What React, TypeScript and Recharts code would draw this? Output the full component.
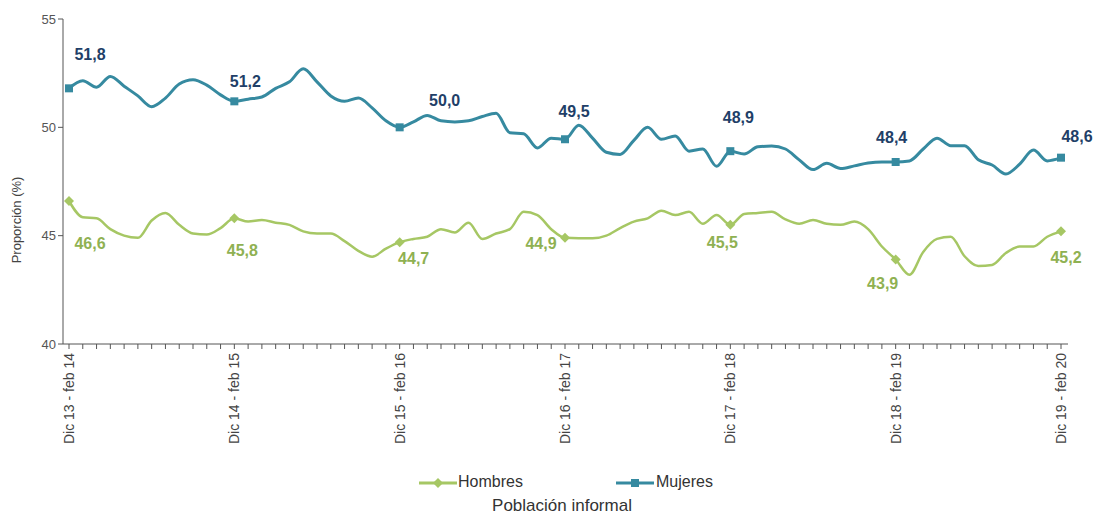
import React from 'react'
import { LineChart, Line, XAxis, YAxis, Legend } from 'recharts'

// Rolling quarters, Dic 13 - feb 14 ... Dic 19 - feb 20 (73 periods)
const monthAbbr = ['Ene', 'Feb', 'Mar', 'Abr', 'May', 'Jun', 'Jul', 'Ago', 'Sep', 'Oct', 'Nov', 'Dic']
const endAbbr = ['ene', 'feb', 'mar', 'abr', 'may', 'jun', 'jul', 'ago', 'sep', 'oct', 'nov', 'dic']

const periods: string[] = []
for (let i = 0; i < 73; i++) {
  const start = (11 + i) % 12
  const startYear = 13 + Math.floor((11 + i) / 12)
  const end = (start + 2) % 12
  const endYear = startYear + (start + 2 >= 12 ? 1 : 0)
  periods.push(
    start >= 10
      ? `${monthAbbr[start]} ${startYear} - ${endAbbr[end]} ${endYear}`
      : `${monthAbbr[start]} - ${endAbbr[end]} ${endYear}`
  )
}

const mujeres = [
  51.8, 52.15, 51.85, 52.35, 51.9, 51.45, 50.95, 51.35, 52.0, 52.2, 51.95, 51.5,
  51.2, 51.3, 51.4, 51.8, 52.1, 52.7, 52.1, 51.45, 51.2, 51.35, 50.9, 50.3,
  50.0, 50.25, 50.55, 50.3, 50.25, 50.3, 50.5, 50.65, 49.75, 49.7, 49.05, 49.5,
  49.45, 50.1, 49.5, 48.85, 48.75, 49.4, 50.0, 49.45, 49.6, 48.9, 49.0, 48.2,
  48.9, 48.77, 49.1, 49.14, 49.0, 48.5, 48.05, 48.34, 48.1, 48.22, 48.35, 48.4,
  48.4, 48.45, 49.0, 49.5, 49.15, 49.15, 48.5, 48.26, 47.85, 48.3, 48.95, 48.45,
  48.6,
]

const hombres = [
  46.6, 45.85, 45.8, 45.3, 45.0, 44.9, 45.7, 46.05, 45.5, 45.1, 45.05, 45.35,
  45.8, 45.65, 45.72, 45.6, 45.5, 45.2, 45.1, 45.1, 44.75, 44.3, 44.03, 44.4,
  44.7, 44.85, 44.95, 45.3, 45.15, 45.6, 44.85, 45.1, 45.3, 46.1, 45.95, 45.3,
  44.9, 44.88, 44.88, 45.0, 45.35, 45.65, 45.8, 46.15, 45.95, 46.1, 45.55, 45.95,
  45.5, 46.0, 46.05, 46.1, 45.75, 45.55, 45.72, 45.55, 45.5, 45.65, 45.3, 44.5,
  43.9, 43.2, 44.25, 44.85, 44.95, 44.05, 43.6, 43.65, 44.2, 44.5, 44.5, 44.95,
  45.2,
]

const yTicks = [40, 45, 50, 55]

const data = periods.map((p, i) => ({ period: p, hombres: hombres[i], mujeres: mujeres[i] }))

const MUJ_LINE = '#368aa0'
const MUJ_TEXT = '#1f3f68'
const HOM_LINE = '#a6c764'
const HOM_TEXT = '#8fb152'
const FONT = '"Liberation Sans", Arial, sans-serif'

// label offsets (dx, dy) for each yearly point
const mujOffsets = [[21, -34], [11, -20], [45, -27], [9, -28], [8, -34], [-4, -25], [16, -21]]
const homOffsets = [[21, 42], [8, 32], [14, 16], [-24, 6], [-8, 18], [-13, 24], [5, 26]]

const fmt = (v: number) => v.toFixed(1).replace('.', ',')

const makeDot = (kind: 'square' | 'diamond', fill: string, textColor: string, offsets: number[][]) =>
  (props: any) => {
    const { cx, cy, index, value } = props
    if (index % 12 !== 0 || cx == null) return <g key={`d-${kind}-${index}`} />
    const [dx, dy] = offsets[index / 12]
    const v = Array.isArray(value) ? value[1] : value
    return (
      <g key={`d-${kind}-${index}`}>
        {kind === 'square' ? (
          <rect x={cx - 4} y={cy - 4} width={8} height={8} fill={fill} />
        ) : (
          <polygon points={`${cx},${cy - 5} ${cx + 5},${cy} ${cx},${cy + 5} ${cx - 5},${cy}`} fill={fill} />
        )}
        <text x={cx + dx} y={cy + dy} dy="0.35em" textAnchor="middle" fontFamily={FONT}
          fontSize={16} fontWeight="bold" fill={textColor}>
          {fmt(v)}
        </text>
      </g>
    )
  }

const XTick = (props: any) => {
  const { x, y, payload, index } = props
  if (index % 12 !== 0) return <g />
  return (
    <text transform={`translate(${x + 5},${y + 2}) rotate(-90)`} textAnchor="end"
      fontFamily={FONT} fontSize={14} fill="#444">
      {payload.value}
    </text>
  )
}

const LegendBox = () => (
  <div style={{ position: 'relative', height: 60, width: 1068, fontFamily: FONT, color: '#333' }}>
    <svg width={40} height={12} style={{ position: 'absolute', left: 419, top: 23 }}>
      <line x1={0} y1={6} x2={38} y2={6} stroke={HOM_LINE} strokeWidth={3} />
      <polygon points="19,1 24,6 19,11 14,6" fill={HOM_LINE} />
    </svg>
    <span style={{ position: 'absolute', left: 458, top: 19, fontSize: 16 }}>Hombres</span>
    <svg width={40} height={12} style={{ position: 'absolute', left: 616, top: 23 }}>
      <line x1={0} y1={6} x2={38} y2={6} stroke={MUJ_LINE} strokeWidth={3} />
      <rect x={15} y={2} width={8} height={8} fill={MUJ_LINE} />
    </svg>
    <span style={{ position: 'absolute', left: 656, top: 19, fontSize: 16 }}>Mujeres</span>
    <div style={{ position: 'absolute', left: 462, width: 200, textAlign: 'center', top: 42, fontSize: 17 }}>
      Población informal
    </div>
  </div>
)

export default function App() {
  return (
    <div style={{ width: 1099, height: 514, background: '#fff' }}>
      <style>{'body{margin:0}'}</style>
      <LineChart width={1099} height={514} data={data} margin={{ top: 19, right: 31, bottom: 0, left: 0 }}>
        <XAxis dataKey="period" interval={0} tick={<XTick />} height={110}
          padding={{ left: 6, right: 7 }} stroke="#555" tickSize={5} />
        <YAxis domain={[40, 55]} ticks={yTicks} width={63} stroke="#555" tickSize={5}
          tick={{ fontFamily: FONT, fontSize: 13, fill: '#555' }}
          label={{
            content: () => (
              <text transform="translate(21,220) rotate(-90)" textAnchor="middle"
                fontFamily={FONT} fontSize={13} fill="#444">
                Proporción (%)
              </text>
            ),
          }} />
        <Legend verticalAlign="bottom" content={<LegendBox />} wrapperStyle={{ height: 60 }} />
        <Line type="monotone" dataKey="mujeres" stroke={MUJ_LINE} strokeWidth={3}
          dot={makeDot('square', MUJ_LINE, MUJ_TEXT, mujOffsets)} activeDot={false} isAnimationActive={false} />
        <Line type="monotone" dataKey="hombres" stroke={HOM_LINE} strokeWidth={2.5}
          dot={makeDot('diamond', HOM_LINE, HOM_TEXT, homOffsets)} activeDot={false} isAnimationActive={false} />
      </LineChart>
    </div>
  )
}
